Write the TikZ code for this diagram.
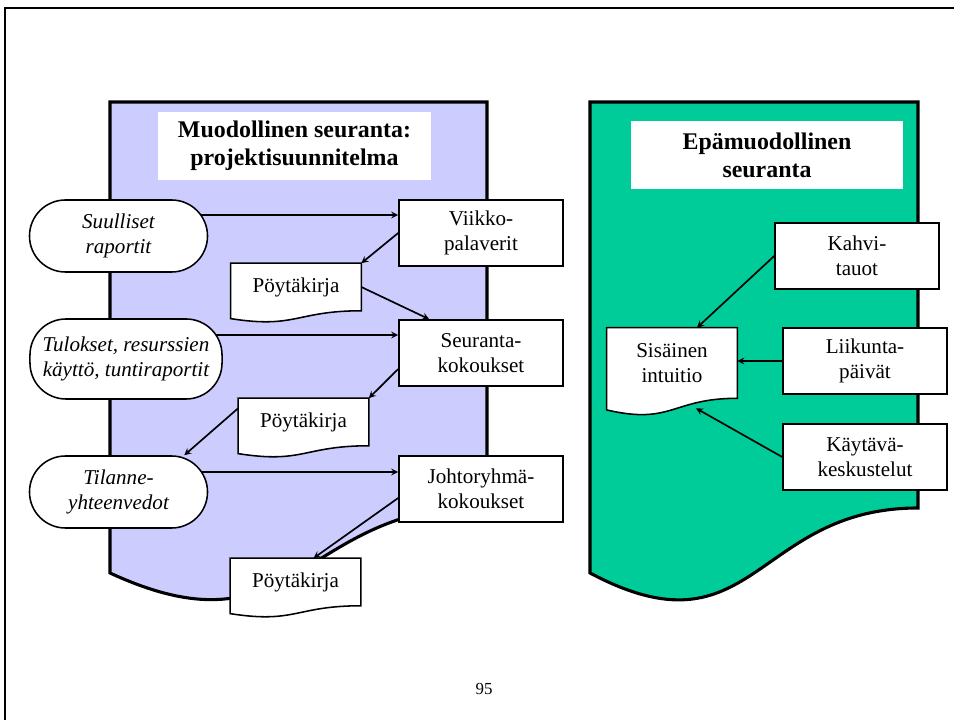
\documentclass[tikz,border=0pt]{standalone}
\usepackage{fontspec}
\setmainfont{Liberation Serif}
\usetikzlibrary{arrows, calc, backgrounds}
\definecolor{formalbg}{HTML}{CCCCFF}
\definecolor{informalbg}{HTML}{00CC99}

\begin{document}
\begin{tikzpicture}[x=0.025cm, y=-0.025cm,
  txt/.style={font=\fontsize{15}{18}\selectfont, align=center},
  titlebox/.style={fill=white, minimum width=6.8cm, minimum height=1.7cm,
                   font=\fontsize{17}{20}\selectfont\bfseries, align=center},
  meetbox/.style={txt, rectangle, draw, fill=white, line width=1.1pt,
                  minimum width=4.1cm, minimum height=1.65cm},
  srcoval/.style={txt, rectangle, rounded corners=0.9cm, draw, fill=white,
                  line width=1.1pt, minimum width=4.45cm, minimum height=1.8cm,
                  font=\fontsize{15}{18}\selectfont\itshape},
  docbox/.style={txt, minimum width=3.25cm, minimum height=1.175cm},
  docline/.style={draw, fill=white, line width=1.1pt},
  bigdoc/.style={draw, line width=2.2pt},
  arr/.style={->, >=stealth, line width=1.2pt}
]
\useasboundingbox (0,0) rectangle (954,720);
\draw[line width=1.4pt] (5,720) -- (5,8) -- (954,8);

% titles
\node[titlebox] (title1) at (294.5,146) {Muodollinen seuranta:\\projektisuunnitelma};
\node[titlebox] (title2) at (767,155) {Epämuodollinen\\seuranta};

% sources
\node[srcoval] (src1) at (118.5,236) {Suulliset\\raportit};
\node[srcoval, minimum width=4.8cm, minimum height=2cm] (src2) at (126,359)
  {Tulokset, resurssien\\käyttö, tuntiraportit};
\node[srcoval] (src3) at (118.5,492) {Tilanne-\\yhteenvedot};

% meetings
\node[meetbox] (meet1) at (481,233) {Viikko-\\palaverit};
\node[meetbox] (meet2) at (481,353) {Seuranta-\\kokoukset};
\node[meetbox] (meet3) at (481,489) {Johtoryhmä-\\kokoukset};

% minutes
\node[docbox] (pk1) at (296,287) {Pöytäkirja};
\node[docbox] (pk2) at (303.5,422) {Pöytäkirja};
\node[docbox] (pk3) at (295.5,582) {Pöytäkirja};

% informal side
\node[docbox, minimum height=1.75cm] (intu) at (672,363) {Sisäinen\\intuitio};
\node[meetbox] (kahvi) at (857,256) {Kahvi-\\tauot};
\node[meetbox] (liik) at (865,361) {Liikunta-\\päivät};
\node[meetbox] (kayt) at (865,457) {Käytävä-\\keskustelut};

\node[font=\fontsize{12}{14}\selectfont] (pnum) at (484,689) {95};

\coordinate (s1) at ($(src1)+(0,-21)$);
\coordinate (s2) at ($(src2)+(0,-24)$);
\coordinate (s3) at ($(src3)+(0,-20)$);

\begin{scope}[on background layer]
\draw[bigdoc, fill=formalbg] (110,102) -- (487,102) -- (487,506)
  .. controls (298.5,506) and (298.5,660) .. (110,573) -- cycle;
\draw[bigdoc, fill=informalbg] (590,102) -- (918,102) -- (918,508)
  .. controls (754,508) and (754,660) .. (590,573) -- cycle;
\foreach \d in {pk1,pk2,pk3,intu}{
  \draw[docline] (\d.north west) -- (\d.north east) -- (\d.south east)
    .. controls (\d.south) and ($(\d.south)!-0.381!(\d.north)$)
    .. ($(\d.south west)!-0.165!(\d.north west)$) -- cycle;
}
\draw[arr] (s1) -- (s1 -| meet1.west);
\draw[arr] (s2) -- (s2 -| meet2.west);
\draw[arr] (s3) -- (s3 -| meet3.west);
\end{scope}

\draw[arr] (meet1.west) -- (pk1.north east);
\draw[arr] (pk1.east) -- ($(meet2.north west)+(31,0)$);
\draw[arr] ($(meet2.west)+(0,16)$) -- (pk2.north east);
\draw[arr] ($(pk2.north west)+(0,10)$) -- ($(src3.north east)+(-24,0)$);
\draw[arr] ($(meet3.west)+(0,9)$) -- ($(pk3.north)+(18,0)$);
\draw[arr] (kahvi.west) -- ($(intu.north)+(25,0)$);
\draw[arr] (liik.west) -- (liik.west -| intu.east);
\draw[arr] (kayt.west) -- ($(intu.south)+(24,10)$);
\end{tikzpicture}
\end{document}
